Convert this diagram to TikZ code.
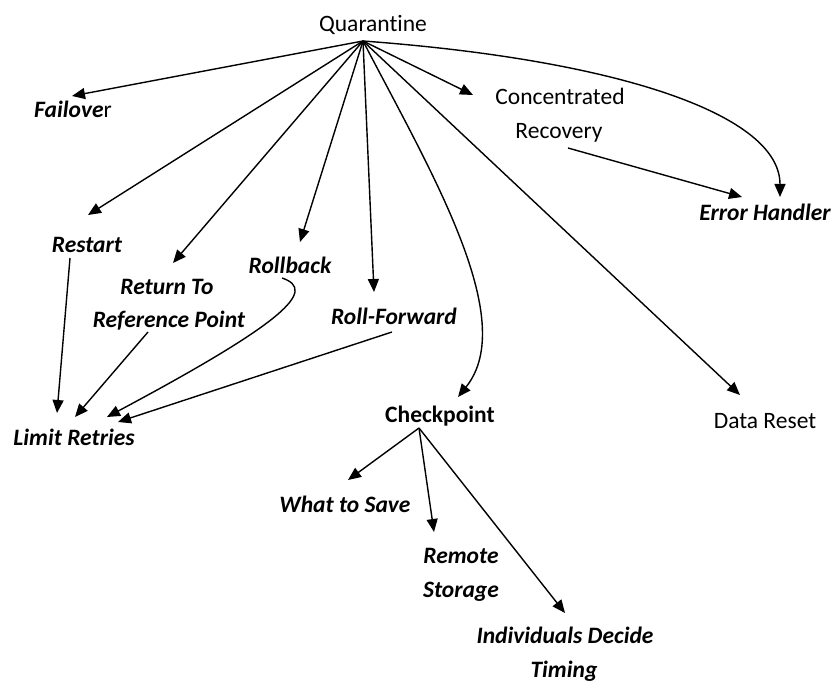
\documentclass[tikz,border=0pt]{standalone}
\usepackage{fontspec}
\setmainfont{Carlito}[Ligatures={NoCommon}]
\usetikzlibrary{arrows.meta}
\begin{document}
\begin{tikzpicture}[x=1pt,y=-1pt,
  lbl/.style={anchor=base,inner sep=0pt,font=\fontsize{23.5}{34}\selectfont},
  emph/.style={lbl,font=\fontsize{23.5}{34}\selectfont\bfseries\itshape},
  link/.style={line width=1.4pt,-{Triangle[length=13pt,width=11pt]}}]
\useasboundingbox (0,0) rectangle (833,682);

% labels
\node[lbl] (quar) at (373,32) {Quarantine};
\node[lbl] (fail) at (73,118) {\textbf{\textit{Failove}}r};
\node[lbl] (conc1) at (560,105) {Concentrated};
\node[lbl] (conc2) at (559,139) {Recovery};
\node[emph] (err) at (765,220) {Error Handler};
\node[emph] (rest) at (87,252) {Restart};
\node[emph] (ret1) at (167,294) {Return To};
\node[emph] (ret2) at (169,327) {Reference Point};
\node[emph] (rollb) at (290,273) {Rollback};
\node[emph] (rollf) at (394,324) {Roll-Forward};
\node[emph] (limit) at (74,445) {Limit Retries};
\node[lbl,font=\fontsize{23.5}{34}\selectfont\bfseries] (chk) at (440,422) {Checkpoint};
\node[lbl] (data) at (765,428) {Data Reset};
\node[emph] (save) at (345,512) {What to Save};
\node[emph] (rem1) at (461,563) {Remote};
\node[emph] (rem2) at (461,597) {Storage};
\node[emph] (ind1) at (565,643) {Individuals Decide};
\node[emph] (ind2) at (564,677) {Timing};

% connector end points
\coordinate (qhub) at (363,41);
\coordinate (chub) at (419,428);
\coordinate (failT) at (72,96);
\coordinate (concT) at (473,95);
\coordinate (concS) at (568,148);
\coordinate (errT1) at (742,197);
\coordinate (errT2) at (780,197);
\coordinate (restT) at (88,215);
\coordinate (restS) at (70,258);
\coordinate (retT) at (173,263);
\coordinate (retS) at (148,332);
\coordinate (rollbT) at (300,242);
\coordinate (rollbS) at (282,278);
\coordinate (rollfT) at (374,292);
\coordinate (rollfS) at (392,332);
\coordinate (chkT) at (458,397);
\coordinate (dataT) at (740,395);
\coordinate (limT1) at (57,413);
\coordinate (limT2) at (75,417);
\coordinate (limT3) at (107,417);
\coordinate (limT4) at (118,422);
\coordinate (saveT) at (348,480);
\coordinate (remT) at (434,532);
\coordinate (indT) at (565,613);

% from Quarantine
\draw[link] (qhub) -- (failT);
\draw[link] (qhub) -- (concT);
\draw[link] (qhub) .. controls (620,60) and (780,115) .. (errT2);
\draw[link] (qhub) -- (restT);
\draw[link] (qhub) -- (retT);
\draw[link] (qhub) -- (rollbT);
\draw[link] (qhub) -- (rollfT);
\draw[link] (qhub) .. controls (430,170) and (520,320) .. (chkT);
\draw[link] (qhub) -- (dataT);

% second level
\draw[link] (concS) -- (errT1);
\draw[link] (restS) -- (limT1);
\draw[link] (retS) -- (limT2);
\draw[link] (rollbS) .. controls (318,290) and (285,322) .. (limT3);
\draw[link] (rollfS) -- (limT4);

% from Checkpoint
\draw[link] (chub) -- (saveT);
\draw[link] (chub) -- (remT);
\draw[link] (chub) -- (indT);
\end{tikzpicture}
\end{document}
